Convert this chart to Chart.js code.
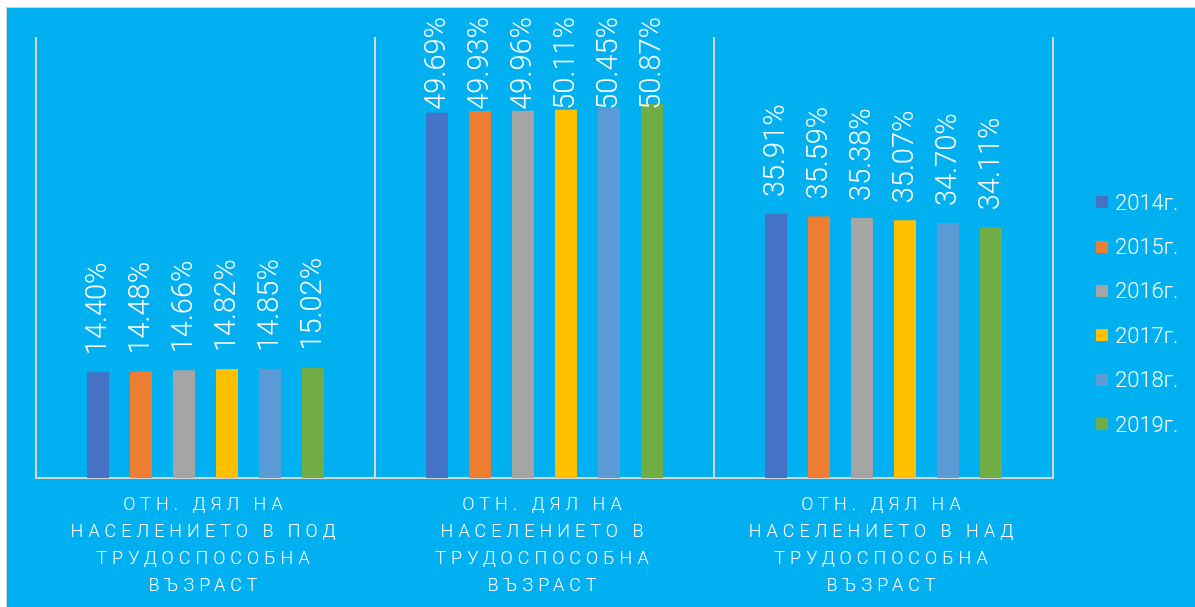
<!DOCTYPE html>
<html>
<head>
<meta charset="utf-8">
<script src="https://cdn.jsdelivr.net/npm/chart.js@4/dist/chart.umd.min.js"></script>
<style>
  body { margin: 0; background: #fff; width: 1195px; height: 607px; overflow: hidden; position: relative; }
  #wrap { position: absolute; left: 6px; top: 7px; width: 1189px; height: 600px; background: #00B0F0;
          border-left: 1px solid #cfcfcf; border-top: 1px solid #cfcfcf; }
  #chart { position: absolute; left: 0; top: 0; }
  #legend { position: absolute; left: 1089px; top: 172px; font-family: Roboto, sans-serif; font-weight: 300;
            font-size: 22px; color: #fff; }
  #legend div { height: 44.4px; display: flex; align-items: center; }
  #legend span.box { width: 12px; height: 12px; margin-right: 7px; display: inline-block; }
</style>
</head>
<body>
<div id="wrap">
  <canvas id="chart" width="1188" height="599"></canvas>
  <div id="legend"></div>
</div>
<script>
const categories = [
    ['ОТН. ДЯЛ НА', 'НАСЕЛЕНИЕТО В ПОД', 'ТРУДОСПОСОБНА', 'ВЪЗРАСТ'],
    ['ОТН. ДЯЛ НА', 'НАСЕЛЕНИЕТО В', 'ТРУДОСПОСОБНА', 'ВЪЗРАСТ'],
    ['ОТН. ДЯЛ НА', 'НАСЕЛЕНИЕТО В НАД', 'ТРУДОСПОСОБНА', 'ВЪЗРАСТ']
];
const years = ['2014г.', '2015г.', '2016г.', '2017г.', '2018г.', '2019г.'];
const colors = ['#4472C4', '#ED7D31', '#A5A5A5', '#FFC000', '#5B9BD5', '#70AD47'];

const v2014 = [14.40, 49.69, 35.91];
const v2015 = [14.48, 49.93, 35.59];
const v2016 = [14.66, 49.96, 35.38];
const v2017 = [14.82, 50.11, 35.07];
const v2018 = [14.85, 50.45, 34.70];
const v2019 = [15.02, 50.87, 34.11];
const values = [v2014, v2015, v2016, v2017, v2018, v2019];

// rotated value labels above each bar
const barLabels = {
    id: 'barLabels',
    beforeDraw(chart) {
        chart.ctx.letterSpacing = '5px'; // spaced-out category text
    },
    afterDraw(chart) {
        const ctx = chart.ctx;
        ctx.letterSpacing = '0px';
        ctx.save();
        ctx.font = '300 29px Roboto, sans-serif';
        ctx.fillStyle = '#fff';
        ctx.textAlign = 'left';
        ctx.textBaseline = 'middle';
        chart.data.datasets.forEach((ds, i) => {
            chart.getDatasetMeta(i).data.forEach((bar, j) => {
                const txt = ds.data[j].toFixed(2) + '%';
                const w = ctx.measureText(txt).width;
                let start = bar.y - 17;
                if (start - w < 9) start = 9 + w;
                ctx.save();
                ctx.translate(bar.x, start);
                ctx.rotate(-Math.PI / 2);
                ctx.fillText(txt, 0, 1);
                ctx.restore();
            });
        });
        ctx.restore();
    }
};

const ctx = document.getElementById('chart').getContext('2d');
const chart = new Chart(ctx, {
    type: 'bar',
    data: {
        labels: categories,
        datasets: years.map((y, i) => ({
            label: y,
            data: values[i],
            backgroundColor: colors[i],
            barPercentage: 0.512,
            categoryPercentage: 0.761
        }))
    },
    options: {
        responsive: false,
        animation: false,
        layout: { padding: { left: 29, top: 29, right: 142, bottom: 0 } },
        plugins: { legend: { display: false }, tooltip: { enabled: false } },
        scales: {
            x: {
                afterFit(scale) { scale.height = 129; },
                grid: { display: true, offset: true, color: '#d6d6d6', lineWidth: 2, drawTicks: false },
                border: { display: true, color: '#d6d6d6', width: 2 },
                ticks: {
                    color: '#fff', padding: 14, maxRotation: 0, autoSkip: false,
                    font: { family: 'Roboto, sans-serif', weight: '300', size: 18, lineHeight: 1.5 }
                }
            },
            y: { display: false, min: 0, max: 60 }
        }
    },
    plugins: [barLabels]
});

const legend = document.getElementById('legend');
chart.data.datasets.forEach(ds => {
    const row = document.createElement('div');
    const box = document.createElement('span');
    box.className = 'box';
    box.style.background = ds.backgroundColor;
    row.appendChild(box);
    row.appendChild(document.createTextNode(ds.label));
    legend.appendChild(row);
});
</script>
</body>
</html>
